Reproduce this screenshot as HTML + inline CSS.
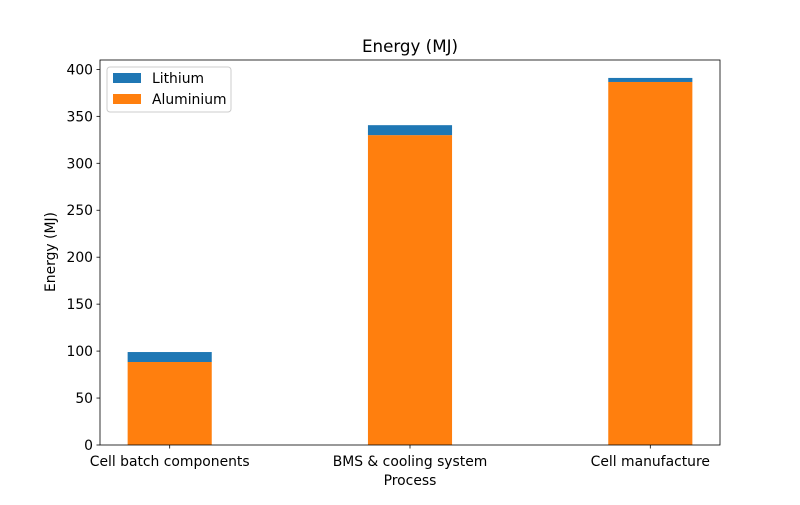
<!DOCTYPE html>
<html><head><meta charset="utf-8"><style>body{margin:0;background:#fff}svg{font-family:"DejaVu Sans","Liberation Sans",sans-serif}</style></head>
<body>
<svg id="chart" width="800" height="500" xmlns="http://www.w3.org/2000/svg"></svg>
<script>
const categories = ["Cell batch components", "BMS & cooling system", "Cell manufacture"];
const aluminium = [88.4, 330, 386.6];
const lithium = [10.6, 10.6, 4.3];
const yTicks = [0, 50, 100, 150, 200, 250, 300, 350, 400];

const L=100,R=720,T=60,B=445,yMax=410,xMin=-0.29,xMax=2.29,bw=0.35;
const y=v=>B-(v/yMax)*(B-T);
const x=i=>L+(i-xMin)/(xMax-xMin)*(R-L);
const svg=document.getElementById('chart');
const NS='http://www.w3.org/2000/svg';
function el(t,a,txt){const e=document.createElementNS(NS,t);for(const k in a)e.setAttribute(k,a[k]);if(txt!==undefined)e.textContent=txt;svg.appendChild(e);return e;}

categories.forEach((c,i)=>{
  const x0=x(i-bw/2),w=x(i+bw/2)-x0;
  let r=el('rect',{x:x0,y:y(aluminium[i]),width:w,height:B-y(aluminium[i]),fill:'#ff7f0e'});
  
  
  const top=aluminium[i]+lithium[i];
  r=el('rect',{x:x0,y:y(top),width:w,height:y(aluminium[i])-y(top),fill:'#1f77b4'});
  
  
  el('line',{x1:x(i),x2:x(i),y1:B,y2:B+3.5,stroke:'#000','stroke-width':0.8});
  const t=el('text',{x:x(i),y:B+21,'text-anchor':'middle','font-size':13.9},c);
  
  
});
yTicks.forEach(v=>{
  el('line',{x1:L-3.5,x2:L,y1:y(v),y2:y(v),stroke:'#000','stroke-width':0.8});
  const t=el('text',{x:L-7,y:y(v)+5,'text-anchor':'end','font-size':13.9},v);
  
  
});
el('rect',{x:L,y:T,width:R-L,height:B-T,fill:'none',stroke:'#000','stroke-width':0.8,});
el('text',{x:410,y:52,'text-anchor':'middle','font-size':16.7,},'Energy (MJ)');
el('text',{x:410,y:485,'text-anchor':'middle','font-size':13.9,},'Process');
el('text',{x:0,y:0,transform:'translate(55,252) rotate(-90)','text-anchor':'middle','font-size':13.9,},'Energy (MJ)');
el('rect',{x:107,y:67,width:124,height:45,rx:3,fill:'#fff',stroke:'#ccc',});
el('rect',{x:113,y:73,width:28,height:10,fill:'#1f77b4',});
el('text',{x:152,y:83,'font-size':13.9,},'Lithium');
el('rect',{x:113,y:94,width:28,height:10,fill:'#ff7f0e',});
el('text',{x:152,y:104,'font-size':13.9,},'Aluminium');
</script>
</body></html>
